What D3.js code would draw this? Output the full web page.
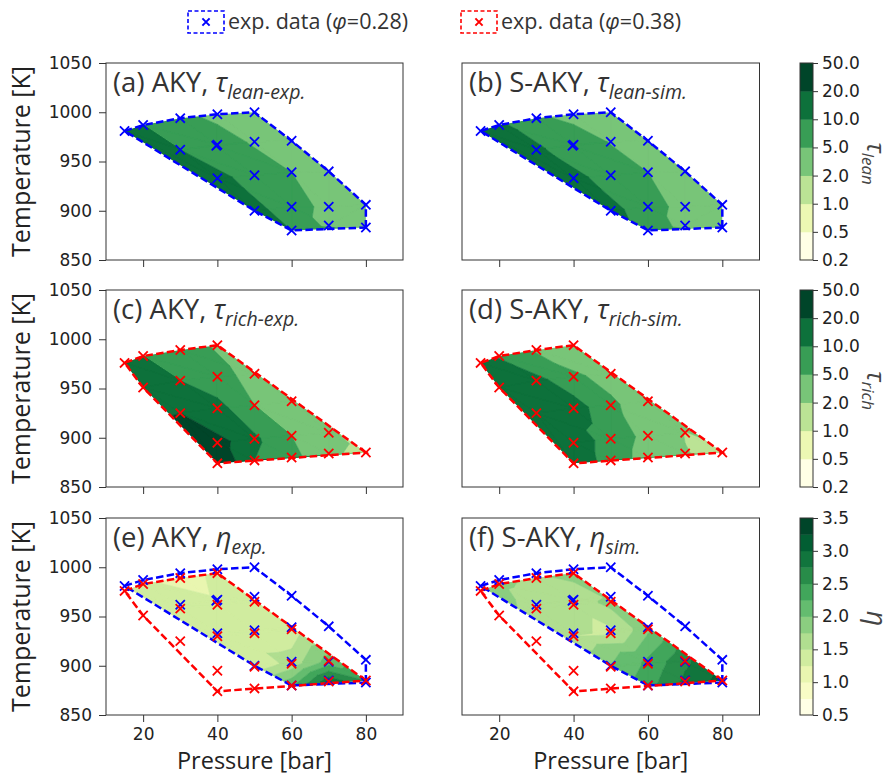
<!DOCTYPE html>
<html>
<head>
<meta charset="utf-8">
<script src="https://cdn.jsdelivr.net/npm/d3@7"></script>
<style>
  body { margin: 0; background: #fff; }
  svg { display: block; }
</style>
</head>
<body>
<div id="chart"></div>
<script>
// measurement points, phi = 0.28 (lean, blue) and phi = 0.38 (rich, red)
const pLean = [15, 20, 30, 40, 50, 60, 70, 80, 80, 70, 60, 50, 40, 30, 39.7, 40, 50, 50, 60, 60, 70];
const tLean = [981, 987, 994, 998, 1000, 971, 940, 906, 883, 885, 880, 900, 933, 962, 966, 967, 970, 936, 939, 904, 904];
const pRich = [15, 20, 30, 40, 50, 60, 70, 80, 70, 60, 50, 40, 30, 20, 30, 40, 40, 40, 50, 50, 60];
const tRich = [976, 983, 989, 994, 965, 937, 905, 885, 884, 880, 877, 874, 925, 951, 958, 962, 930, 895, 933, 899, 902];

// ignition delays at the points
const tauLeanExp = [14, 10, 6, 4, 3.5, 3, 2.8, 2.6, 3, 3.8, 10, 12, 12, 10, 7, 7, 4.5, 7, 5, 6.5, 4];
const tauLeanSim = [14, 11, 5.5, 4, 3.5, 3, 2.8, 2.6, 2.8, 3.5, 8, 12, 12, 11, 7, 7, 4.8, 7, 5, 6.5, 3.8];
const tauRichExp = [15, 10, 7, 4.5, 4, 3.5, 3, 1.2, 2.5, 6, 10, 30, 20, 14, 10, 6, 12, 25, 5, 11, 5];
const tauRichSim = [15, 9, 4.5, 4, 4, 3.5, 1.9, 1.4, 2.1, 3.5, 7, 15, 16, 15, 12, 5.5, 13, 14, 5.5, 7, 4];

// eta at the same points (only the overlap of both hulls is shown)
const etaExpLean = [1.4, 1.3, 1.1, 1.35, 1.3, 1.3, 1.5, 2.4, 2.5, 2.9, 2.2, 1.3, 1.3, 1.4, 1.3, 1.3, 1.3, 1.3, 1.35, 1.6, 2.1];
const etaExpRich = [1.45, 1.35, 1.05, 1.35, 1.3, 1.35, 2.1, 2.5, 2.9, 2.2, 1.9, 1.6, 1.5, 1.5, 1.35, 1.3, 1.3, 1.35, 1.3, 1.35, 1.6];
const etaSimLean = [2.0, 1.8, 1.7, 1.85, 1.9, 2.0, 2.5, 3.0, 3.1, 2.8, 2.4, 2.0, 1.55, 1.6, 1.55, 1.55, 1.8, 1.45, 1.95, 2.3, 2.7];
const etaSimRich = [2.0, 1.8, 1.7, 1.85, 1.85, 1.95, 2.7, 3.1, 2.8, 2.4, 2.2, 2.0, 1.8, 1.9, 1.6, 1.55, 1.5, 1.8, 1.45, 2.0, 2.3];

const tauLevels = [0.2, 0.5, 1, 2, 5, 10, 20, 50];
const etaLevels = [0.5, 0.75, 1, 1.25, 1.5, 1.75, 2, 2.25, 2.5, 2.75, 3, 3.25, 3.5];
const etaTicks = [0.5, 1.0, 1.5, 2.0, 2.5, 3.0, 3.5];
const xTicks = [20, 40, 60, 80];
const yTicks = [850, 900, 950, 1000, 1050];

const W = 896, H = 775;
const colX = [[106, 403], [462, 759.5]];
const rowY = [63, 290, 518];
const panelH = 197;
const cbX = 800, cbW = 13;
const fontSans = "'Open Sans', 'DejaVu Sans', sans-serif";
const fontTick = "'DejaVu Sans', sans-serif";

const lean = pLean.map((p, i) => ({ p, t: tLean[i] }));
const rich = pRich.map((p, i) => ({ p, t: tRich[i] }));
const withValues = (pts, vals) => pts.map((d, i) => ({ p: d.p, t: d.t, v: vals[i] }));

const tauColors = tauLevels.slice(1).map((_, i) => d3.interpolateYlGn(i / (tauLevels.length - 2)));
const etaColors = etaLevels.slice(1).map((_, i) => d3.interpolateYlGn(i / (etaLevels.length - 2)));

const panels = [
    { tag: "(a) AKY, ", sym: "τ", sub: "lean-exp.", row: 0, col: 0, pts: withValues(lean, tauLeanExp), hulls: ["lean"] },
    { tag: "(b) S-AKY, ", sym: "τ", sub: "lean-sim.", row: 0, col: 1, pts: withValues(lean, tauLeanSim), hulls: ["lean"] },
    { tag: "(c) AKY, ", sym: "τ", sub: "rich-exp.", row: 1, col: 0, pts: withValues(rich, tauRichExp), hulls: ["rich"] },
    { tag: "(d) S-AKY, ", sym: "τ", sub: "rich-sim.", row: 1, col: 1, pts: withValues(rich, tauRichSim), hulls: ["rich"] },
    { tag: "(e) AKY, ", sym: "η", sub: "exp.", row: 2, col: 0, pts: withValues(lean, etaExpLean).concat(withValues(rich, etaExpRich)), hulls: ["lean", "rich"] },
    { tag: "(f) S-AKY, ", sym: "η", sub: "sim.", row: 2, col: 1, pts: withValues(lean, etaSimLean).concat(withValues(rich, etaSimRich)), hulls: ["lean", "rich"] }
];

const series = {
    lean: { pts: lean, color: "#0000ff" },
    rich: { pts: rich, color: "#ff0000" }
};

// keep the part of a polygon where the linear field is above (or below) c
function clipPoly(poly, c, above) {
    const inside = d => above ? d.v >= c : d.v <= c;
    const out = [];
    for (let i = 0; i < poly.length; i++) {
        const a = poly[i], b = poly[(i + 1) % poly.length];
        const ia = inside(a), ib = inside(b);
        if (ia) out.push(a);
        if (ia !== ib) {
            const f = (c - a.v) / (b.v - a.v);
            out.push({ p: a.p + f * (b.p - a.p), t: a.t + f * (b.t - a.t), v: c });
        }
    }
    return out;
}

// filled contours on a Delaunay triangulation (like tricontourf)
function triBands(pts, levels) {
    const del = d3.Delaunay.from(pts, d => d.p, d => d.t);
    const tri = del.triangles;
    const bands = levels.slice(1).map(() => []);
    for (let i = 0; i < tri.length; i += 3) {
        const poly = [pts[tri[i]], pts[tri[i + 1]], pts[tri[i + 2]]];
        for (let k = 0; k < levels.length - 1; k++) {
            let part = clipPoly(poly, levels[k], true);
            part = clipPoly(part, levels[k + 1], false);
            if (part.length >= 3) bands[k].push(part);
        }
    }
    return bands;
}

const xMark = s => `M${-s},${-s}L${s},${s}M${-s},${s}L${s},${-s}`;

const svg = d3.select("#chart").append("svg")
    .attr("width", W)
    .attr("height", H)
    .attr("viewBox", `0 0 ${W} ${H}`);

const defs = svg.append("defs");

panels.forEach((pn, idx) => {
    const x = d3.scaleLinear().domain([10, 90]).range(colX[pn.col]);
    const y = d3.scaleLinear().domain([850, 1050]).range([rowY[pn.row] + panelH, rowY[pn.row]]);
    const g = svg.append("g");
    const isEta = pn.sym === "η";
    const levels = isEta ? etaLevels : tauLevels;
    const colors = isEta ? etaColors : tauColors;

    const hullPath = name => {
        const hull = d3.polygonHull(series[name].pts.map(d => [x(d.p), y(d.t)]));
        return "M" + hull.join("L") + "Z";
    };

    // contour fill, clipped to every hull of the panel
    let fillG = g;
    pn.hulls.forEach((name, j) => {
        const id = `clip-${idx}-${j}`;
        defs.append("clipPath").attr("id", id).append("path").attr("d", hullPath(name));
        fillG = fillG.append("g").attr("clip-path", `url(#${id})`);
    });

    const bands = triBands(pn.pts, levels);
    bands.forEach((polys, k) => {
        if (!polys.length) return;
        const d = polys.map(poly => "M" + poly.map(q => [x(q.p), y(q.t)]).join("L") + "Z").join("");
        fillG.append("path")
            .attr("d", d)
            .attr("fill", colors[k])
            .attr("stroke", colors[k])
            .attr("stroke-width", 0.6)
            .attr("stroke-linejoin", "round");
    });

    // dashed hulls, then markers
    pn.hulls.forEach(name => {
        g.append("path")
            .attr("d", hullPath(name))
            .attr("fill", "none")
            .attr("stroke", series[name].color)
            .attr("stroke-width", 2.5)
            .attr("stroke-dasharray", "7.5,3.3");
    });
    pn.hulls.forEach(name => {
        g.selectAll(null)
            .data(series[name].pts)
            .enter()
            .append("path")
            .attr("d", xMark(4.6))
            .attr("transform", d => `translate(${x(d.p)},${y(d.t)})`)
            .attr("fill", "none")
            .attr("stroke", series[name].color)
            .attr("stroke-width", 1.8);
    });

    // frame
    g.append("rect")
        .attr("x", colX[pn.col][0])
        .attr("y", rowY[pn.row])
        .attr("width", colX[pn.col][1] - colX[pn.col][0])
        .attr("height", panelH)
        .attr("fill", "none")
        .attr("stroke", "#333")
        .attr("stroke-width", 1);

    const xAxis = g.append("g")
        .attr("transform", `translate(0,${rowY[pn.row] + panelH})`)
        .call(d3.axisBottom(x).tickValues(xTicks).tickSize(7).tickPadding(6).tickSizeOuter(0)
            .tickFormat(pn.row === 2 ? d3.format("d") : () => ""));
    xAxis.select(".domain").remove();

    if (pn.col === 0) {
        const yAxis = g.append("g")
            .attr("transform", `translate(${colX[0][0]},0)`)
            .call(d3.axisLeft(y).tickValues(yTicks).tickSize(7).tickPadding(7).tickSizeOuter(0)
                .tickFormat(d3.format("d")));
        yAxis.select(".domain").remove();
    }
    g.selectAll(".tick line").attr("stroke", "#333");
    g.selectAll(".tick text")
        .attr("font-family", fontTick)
        .attr("font-size", 17)
        .attr("fill", "#222");

    // panel title
    const title = g.append("text")
        .attr("x", colX[pn.col][0] + 7)
        .attr("y", rowY[pn.row] + 28.5)
        .attr("font-family", fontSans)
        .attr("font-size", 27.5)
        .attr("fill", "#333");
    title.append("tspan").text(pn.tag);
    title.append("tspan").attr("font-style", "italic").text(pn.sym);
    title.append("tspan")
        .attr("font-style", "italic")
        .attr("font-size", 19.5)
        .attr("dy", 7.5)
        .text(pn.sub);

    if (pn.col === 0) {
        svg.append("text")
            .attr("transform", `translate(30,${rowY[pn.row] + panelH / 2}) rotate(-90)`)
            .attr("text-anchor", "middle")
            .attr("font-family", fontSans)
            .attr("font-size", 25)
            .attr("fill", "#222")
            .text("Temperature [K]");
    }
    if (pn.row === 2) {
        svg.append("text")
            .attr("x", (colX[pn.col][0] + colX[pn.col][1]) / 2)
            .attr("y", 769)
            .attr("text-anchor", "middle")
            .attr("font-family", fontSans)
            .attr("font-size", 23.5)
            .attr("fill", "#222")
            .text("Pressure [bar]");
    }
});

// colorbars
const colorbars = [
    { row: 0, levels: tauLevels, colors: tauColors, ticks: tauLevels, sub: "lean", uniform: true },
    { row: 1, levels: tauLevels, colors: tauColors, ticks: tauLevels, sub: "rich", uniform: true },
    { row: 2, levels: etaLevels, colors: etaColors, ticks: etaTicks, sub: null, uniform: false }
];

colorbars.forEach(cb => {
    const top = rowY[cb.row], bottom = top + panelH;
    const g = svg.append("g");
    let scale;
    if (cb.uniform) {
        scale = d3.scalePoint().domain(cb.levels).range([bottom, top]);
    } else {
        scale = d3.scaleLinear().domain([cb.levels[0], cb.levels[cb.levels.length - 1]]).range([bottom, top]);
    }
    g.selectAll("rect.band")
        .data(cb.colors)
        .enter()
        .append("rect")
        .attr("class", "band")
        .attr("x", cbX)
        .attr("width", cbW)
        .attr("y", (c, i) => scale(cb.levels[i + 1]))
        .attr("height", (c, i) => scale(cb.levels[i]) - scale(cb.levels[i + 1]) + 0.4)
        .attr("fill", c => c);
    g.append("rect")
        .attr("x", cbX)
        .attr("y", top)
        .attr("width", cbW)
        .attr("height", panelH)
        .attr("fill", "none")
        .attr("stroke", "#333")
        .attr("stroke-width", 1);
    const ax = g.append("g")
        .attr("transform", `translate(${cbX + cbW},0)`)
        .call(d3.axisRight(scale).tickValues(cb.ticks).tickSize(5).tickPadding(4).tickSizeOuter(0)
            .tickFormat(d3.format(".1f")));
    ax.select(".domain").remove();
    ax.selectAll(".tick line").attr("stroke", "#333");
    ax.selectAll(".tick text")
        .attr("font-family", fontTick)
        .attr("font-size", 17)
        .attr("fill", "#222");

    const label = svg.append("text")
        .attr("transform", `translate(867,${(top + bottom) / 2 + 2}) rotate(90)`)
        .attr("text-anchor", "middle")
        .attr("font-family", fontSans)
        .attr("fill", "#444");
    if (cb.sub) {
        label.attr("font-size", 25);
        label.append("tspan").attr("font-style", "italic").text("τ");
        label.append("tspan").attr("font-style", "italic").attr("font-size", 17).attr("dy", 5.5).text(cb.sub);
    } else {
        label.attr("font-size", 27);
        label.append("tspan").attr("font-style", "italic").text("η");
    }
});

// legend
const legendItems = [
    { name: "lean", x: 188, label: "exp. data (", val: "=0.28)" },
    { name: "rich", x: 461, label: "exp. data (", val: "=0.38)" }
];
legendItems.forEach(it => {
    const c = series[it.name].color;
    svg.append("rect")
        .attr("x", it.x)
        .attr("y", 11)
        .attr("width", 36)
        .attr("height", 22)
        .attr("fill", "none")
        .attr("stroke", c)
        .attr("stroke-width", 1.6)
        .attr("stroke-dasharray", "4,2.5");
    svg.append("path")
        .attr("d", xMark(3.6))
        .attr("transform", `translate(${it.x + 18},22)`)
        .attr("fill", "none")
        .attr("stroke", c)
        .attr("stroke-width", 2);
    const t = svg.append("text")
        .attr("x", it.x + 40)
        .attr("y", 29)
        .attr("font-family", fontSans)
        .attr("font-size", 21.5)
        .attr("fill", "#333");
    t.append("tspan").text(it.label);
    t.append("tspan").attr("font-style", "italic").text("φ");
    t.append("tspan").text(it.val);
});
</script>
</body>
</html>
